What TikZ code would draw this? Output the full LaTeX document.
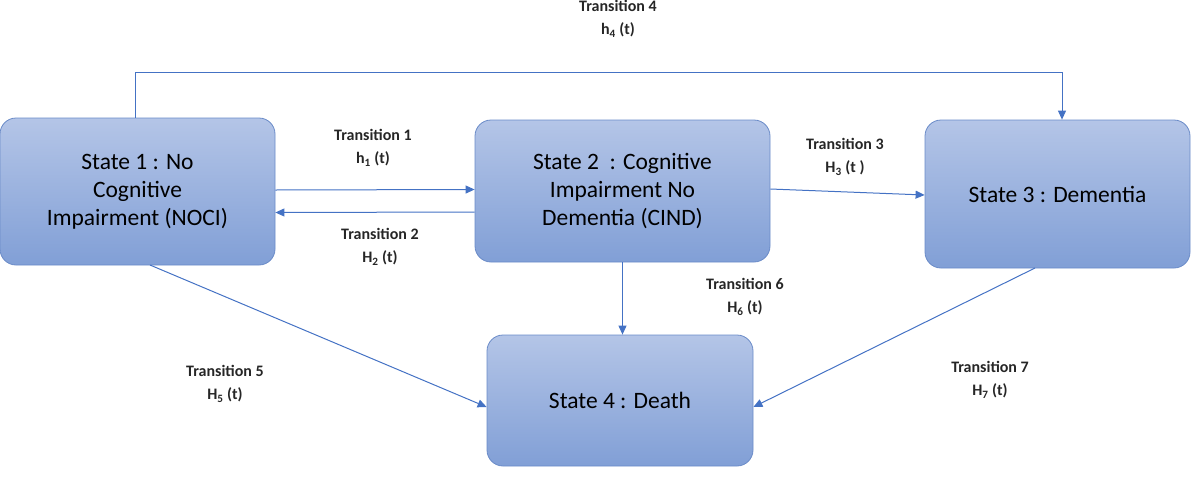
\documentclass[tikz,border=0pt]{standalone}
\usepackage{fontspec}
\setmainfont{Carlito}
\usetikzlibrary{arrows.meta}
\definecolor{arr}{HTML}{4472C4}
\definecolor{btop}{HTML}{B4C5E7}
\definecolor{bbot}{HTML}{819FD6}
\definecolor{bdr}{HTML}{6A8BC8}
\begin{document}
\begin{tikzpicture}[x=1pt,y=-1pt,
  st/.style={draw=bdr,line width=0.8pt,rounded corners=16pt,top color=btop,bottom color=bbot,
    align=center,font=\fontsize{23.5}{28}\selectfont,inner sep=0pt},
  lb/.style={align=center,font=\fontsize{16}{23}\selectfont\bfseries,text=black!85},
  ar/.style={draw=arr,line width=1pt,-{Triangle[length=9pt,width=8pt]}}]
\useasboundingbox (0,0) rectangle (1200,485);
\node[st,minimum width=275pt,minimum height=147pt] (s1) at (137.5,191.5) {State 1 : No\\Cognitive\\Impairment (NOCI)};
\node[st,minimum width=295pt,minimum height=142pt] (s2) at (622.5,191) {State 2\ \ : Cognitive\\Impairment No\\Dementia (CIND)};
\node[st,minimum width=265pt,minimum height=148pt] (s3) at (1057.5,194) {State 3 : Dementia};
\node[st,minimum width=266pt,minimum height=131pt] (s4) at (620,400.5) {State 4 : Death};
\coordinate (c1) at (135,72);
\coordinate (c2) at (1062,72);
\draw[ar] (s1.north -| c1) -- (c1) -- (c2) -- (s3.north -| c2);
\draw[ar] ([yshift=1.5pt]s1.east) -- ([yshift=1.5pt]s2.west);
\draw[ar] ([yshift=-21pt]s2.west) -- ([yshift=-21pt]s1.east);
\draw[ar] ([yshift=2pt]s2.east) -- ([yshift=-1pt]s3.west);
\draw[ar] (s2.south) -- (s4.north -| s2.south);
\coordinate (p5) at (150,265);
\draw[ar] (p5) -- ([yshift=-6.5pt]s4.west);
\coordinate (p7) at (1035,268);
\draw[ar] (p7) -- ([yshift=-6.5pt]s4.east);
\node[lb] (l4) at (618,19) {Transition 4\\h\textsubscript{4} (t)};
\node[lb] (l1) at (373,148) {Transition 1\\h\textsubscript{1} (t)};
\node[lb] (l2) at (380,247) {Transition 2\\H\textsubscript{2} (t)};
\node[lb] (l3) at (845,157) {Transition 3\\H\textsubscript{3} (t )};
\node[lb] (l6) at (745,297) {Transition 6\\H\textsubscript{6} (t)};
\node[lb] (l5) at (225,384) {Transition 5\\H\textsubscript{5} (t)};
\node[lb] (l7) at (990,380) {Transition 7\\H\textsubscript{7} (t)};
\end{tikzpicture}
\end{document}
